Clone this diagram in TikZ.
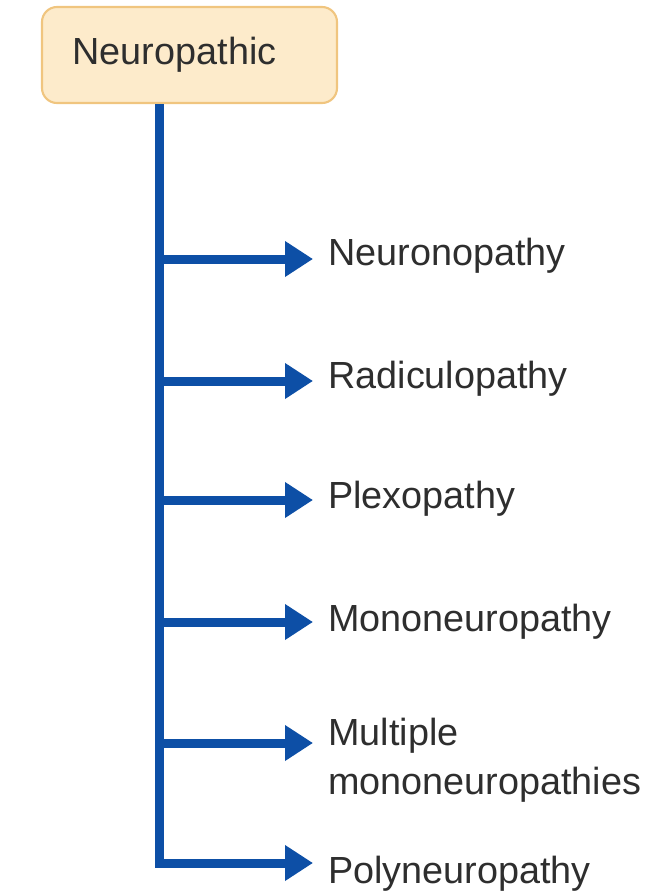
\documentclass[tikz,border=0pt]{standalone}
\usepackage{fontspec}
\setmainfont{Liberation Sans}
\usetikzlibrary{arrows.meta}
\definecolor{nerveblue}{HTML}{0D4FA6}
\definecolor{boxfill}{HTML}{FDEBCB}
\definecolor{boxline}{HTML}{F0C57F}
\definecolor{inkgray}{HTML}{2E2E2E}
\begin{document}
\begin{tikzpicture}[
  head/.style={rectangle, draw=boxline, fill=boxfill, line width=1.2pt,
    rounded corners=0.3cm, minimum width=5.9cm, minimum height=1.92cm,
    text=inkgray, font=\fontsize{21.5}{26}\selectfont},
  kind/.style={anchor=west, inner sep=0pt, align=left, text=inkgray,
    font=\fontsize{21.5}{28}\selectfont},
  branch/.style={draw=nerveblue, line width=0.18cm,
    -{Triangle[length=0.56cm, width=0.68cm]}}
]
\useasboundingbox (0,0) rectangle (13,-17.86);

\node[head] (top) at (3.79,-1.10) {Neuropathic\hspace*{0.6cm}};

% kinds of neuropathic disorder
\node[kind] (n1) at (6.56,-5.12) {Neuronopathy};
\node[kind] (n2) at (6.56,-7.58) {Radiculopathy};
\node[kind] (n3) at (6.56,-9.98) {Plexopathy};
\node[kind] (n4) at (6.56,-12.44) {Mononeuropathy};
\node[kind] (n5) at (6.56,-15.20) {Multiple\\mononeuropathies};
\node[kind] (n6) at (6.56,-17.48) {Polyneuropathy};

% junctions on the spine
\coordinate (j1) at (3.18,-5.18);
\coordinate (j2) at (3.18,-7.62);
\coordinate (j3) at (3.18,-10.00);
\coordinate (j4) at (3.18,-12.44);
\coordinate (j5) at (3.18,-14.86);
\coordinate (j6) at (3.18,-17.26);

\draw[branch] (top.south -| j6) -- (j6) -- ([xshift=-0.3cm]j6 -| n6.west);
\foreach \k in {1,...,5}
  \draw[branch] (j\k) -- ([xshift=-0.3cm]j\k -| n\k.west);
\end{tikzpicture}
\end{document}
